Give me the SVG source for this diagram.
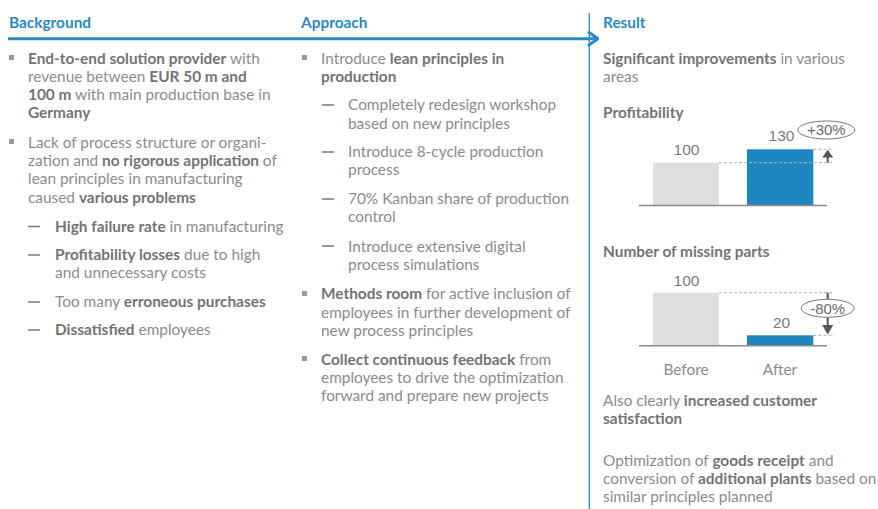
<svg xmlns="http://www.w3.org/2000/svg" width="878" height="509" viewBox="0 0 878 509">
<style>
.t{font-family:Lato,"Liberation Sans",sans-serif;font-size:15.4px;fill:#8c8c8c}
.b{font-weight:bold;fill:#747474}
.h{font-family:Lato,"Liberation Sans",sans-serif;font-size:15.4px;font-weight:bold;fill:#2a8ac4}
.n{font-family:"Liberation Sans",Arial,sans-serif;font-size:15.5px;fill:#7a7a7a}
.p{font-family:"Liberation Sans",Arial,sans-serif;font-size:15px;fill:#6a6a6a}
.sq{fill:#9a9a9a}
.dash{stroke:#7a7a7a;stroke-width:1.5}
.dl{stroke:#b0b0b0;stroke-width:1;stroke-dasharray:3 2;fill:none}
.ax{stroke:#8a8a8a;stroke-width:1.5}
.ov{fill:#fff;stroke:#777;stroke-width:1}
</style>
<defs>
<marker id="chev" viewBox="0 0 12 16" refX="11" refY="8" markerWidth="12" markerHeight="16" markerUnits="userSpaceOnUse" orient="auto">
<path d="M1,1 L11,8 L1,15" fill="none" stroke="#2a8ac4" stroke-width="3"/>
</marker>
</defs>
<rect width="878" height="509" fill="#ffffff"/>
<g id="connectors">
<line x1="8" y1="38.7" x2="598" y2="38.7" stroke="#2a8ac4" stroke-width="3" marker-end="url(#chev)"/>
<line x1="589.3" y1="13" x2="589.3" y2="509" stroke="#2a8ac4" stroke-width="1.3"/>
</g>
<g id="background">
<text class="h" x="9" y="28">Background</text>
<rect class="sq" x="9" y="55" width="5" height="5"/>
<text class="t" x="28" y="63.5"><tspan class="b">End-to-end solution provider</tspan> with</text>
<text class="t" x="28" y="81.8">revenue between <tspan class="b">EUR 50 m and</tspan></text>
<text class="t" x="28" y="100.1"><tspan class="b">100 m</tspan> with main production base in</text>
<text class="t" x="28" y="118.4"><tspan class="b">Germany</tspan></text>
<rect class="sq" x="9" y="139" width="5" height="5"/>
<text class="t" x="28" y="147.7">Lack of process structure or organi-</text>
<text class="t" x="28" y="166">zation and <tspan class="b">no rigorous application</tspan> of</text>
<text class="t" x="28" y="184.3">lean principles in manufacturing</text>
<text class="t" x="28" y="202.6">caused <tspan class="b">various problems</tspan></text>
<line class="dash" x1="28" y1="226.5" x2="40" y2="226.5"/>
<text class="t" x="55" y="231.7"><tspan class="b">High failure rate</tspan> in manufacturing</text>
<line class="dash" x1="28" y1="255" x2="40" y2="255"/>
<text class="t" x="55" y="260"><tspan class="b">Profitability losses</tspan> due to high</text>
<text class="t" x="55" y="278.3">and unnecessary costs</text>
<line class="dash" x1="28" y1="302" x2="40" y2="302"/>
<text class="t" x="55" y="307.3">Too many <tspan class="b">erroneous purchases</tspan></text>
<line class="dash" x1="28" y1="330" x2="40" y2="330"/>
<text class="t" x="55" y="335.2"><tspan class="b">Dissatisfied</tspan> employees</text>
</g>
<g id="approach">
<text class="h" x="301" y="28">Approach</text>
<rect class="sq" x="302" y="55" width="5" height="5"/>
<text class="t" x="321" y="63.5">Introduce <tspan class="b">lean principles in</tspan></text>
<text class="t" x="321" y="81.8"><tspan class="b">production</tspan></text>
<line class="dash" x1="322" y1="105" x2="334" y2="105"/>
<text class="t" x="348" y="110.2">Completely redesign workshop</text>
<text class="t" x="348" y="128.5">based on new principles</text>
<line class="dash" x1="322" y1="152" x2="334" y2="152"/>
<text class="t" x="348" y="157">Introduce 8-cycle production</text>
<text class="t" x="348" y="175.3">process</text>
<line class="dash" x1="322" y1="199" x2="334" y2="199"/>
<text class="t" x="348" y="204">70% Kanban share of production</text>
<text class="t" x="348" y="222.3">control</text>
<line class="dash" x1="322" y1="246" x2="334" y2="246"/>
<text class="t" x="348" y="251.5">Introduce extensive digital</text>
<text class="t" x="348" y="269.8">process simulations</text>
<rect class="sq" x="302" y="291" width="5" height="5"/>
<text class="t" x="321" y="299.3"><tspan class="b">Methods room</tspan> for active inclusion of</text>
<text class="t" x="321" y="317.6">employees in further development of</text>
<text class="t" x="321" y="335.9">new process principles</text>
<rect class="sq" x="302" y="356" width="5" height="5"/>
<text class="t" x="321" y="364.7"><tspan class="b">Collect continuous feedback</tspan> from</text>
<text class="t" x="321" y="383">employees to drive the optimization</text>
<text class="t" x="321" y="401.3">forward and prepare new projects</text>
</g>
<g id="result">
<text class="h" x="603" y="28">Result</text>
<text class="t" x="603" y="63.5"><tspan class="b">Significant improvements</tspan> in various</text>
<text class="t" x="603" y="81.8">areas</text>
<text class="t b" x="603" y="118.4">Profitability</text>
<text class="t b" x="603" y="256.5">Number of missing parts</text>
<text class="t" x="603" y="406">Also clearly <tspan class="b">increased customer</tspan></text>
<text class="t" x="603" y="424.3"><tspan class="b">satisfaction</tspan></text>
<text class="t" x="603" y="465.5">Optimization of <tspan class="b">goods receipt</tspan> and</text>
<text class="t" x="603" y="483.8">conversion of <tspan class="b">additional plants</tspan> based on</text>
<text class="t" x="603" y="502.1">similar principles planned</text>
</g>
<g id="chart-profitability">
<rect x="653" y="162.7" width="66" height="42.3" fill="#dddee0"/>
<rect x="747" y="149.3" width="66.3" height="55.7" fill="#1f87c0"/>
<line class="ax" x1="639" y1="205.5" x2="827" y2="205.5"/>
<line class="dl" x1="719" y1="162.7" x2="834" y2="162.7"/>
<line class="dl" x1="813.3" y1="149.3" x2="834" y2="149.3"/>
<line x1="827.7" y1="156" x2="827.7" y2="162.7" stroke="#555" stroke-width="2"/>
<path d="M822.2,157.5 L827.7,149.8 L833.2,157.5 Z" fill="#555"/>
<text class="n" x="686.5" y="155" text-anchor="middle">100</text>
<text class="n" x="781.5" y="140.5" text-anchor="middle">130</text>
<ellipse class="ov" cx="826.3" cy="130" rx="28.5" ry="9"/>
<text class="p" x="826.3" y="135.3" text-anchor="middle">+30%</text>
</g>
<g id="chart-missing-parts">
<rect x="653" y="292.7" width="66" height="52.8" fill="#dddee0"/>
<rect x="747" y="335.3" width="66.3" height="10.2" fill="#1f87c0"/>
<line class="ax" x1="639" y1="345.8" x2="827" y2="345.8"/>
<line class="dl" x1="719" y1="292.7" x2="834" y2="292.7"/>
<line class="dl" x1="813.3" y1="335.3" x2="834" y2="335.3"/>
<line x1="827.7" y1="292.7" x2="827.7" y2="299.5" stroke="#555" stroke-width="2"/>
<line x1="827.7" y1="317" x2="827.7" y2="326" stroke="#555" stroke-width="2"/>
<path d="M822.2,325 L827.7,334.5 L833.2,325 Z" fill="#555"/>
<text class="n" x="686.5" y="285.5" text-anchor="middle">100</text>
<text class="n" x="781.5" y="328" text-anchor="middle">20</text>
<ellipse class="ov" cx="827.7" cy="308.3" rx="26.5" ry="9"/>
<text class="p" x="827.7" y="313.6" text-anchor="middle">-80%</text>
<text class="t" x="686" y="375" text-anchor="middle">Before</text>
<text class="t" x="780" y="375" text-anchor="middle">After</text>
</g>
</svg>
